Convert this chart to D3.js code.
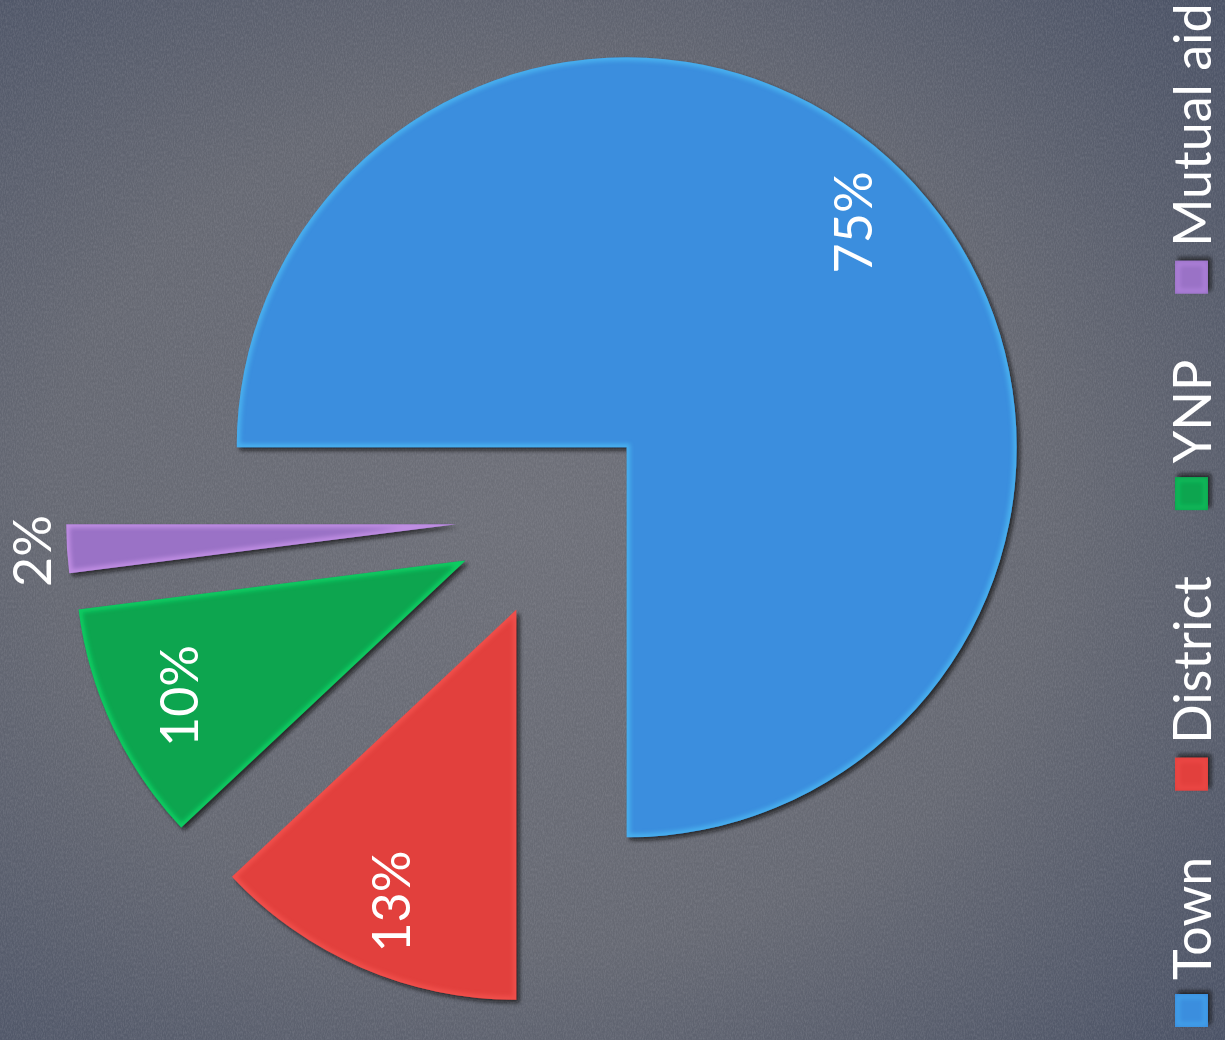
<!DOCTYPE html>
<html>
<head>
<meta charset="utf-8">
<script src="https://cdn.jsdelivr.net/npm/d3@7"></script>
<style>
  html, body { margin: 0; padding: 0; background: #5d6270; }
  svg { display: block; }
</style>
</head>
<body>
<svg id="chart" width="1225" height="1040"></svg>
<script>
// Share of calls by responding agency
const categories = ["Town", "District", "YNP", "Mutual aid"];
const shares = [75, 13, 10, 2];
const labels = ["75%", "13%", "10%", "2%"];
const colors = ["#3b8ede", "#e2403d", "#0aa550", "#9a72c6"];

const W = 1225, H = 1040;
const svg = d3.select("#chart");
const defs = svg.append("defs");

// Background: gray centre fading to a dark slate edge
const bg = defs.append("radialGradient").attr("id", "bg")
  .attr("cx", "45%").attr("cy", "50%").attr("r", "75%");
bg.append("stop").attr("offset", "0%").attr("stop-color", "#6e7079");
bg.append("stop").attr("offset", "55%").attr("stop-color", "#666973");
bg.append("stop").attr("offset", "100%").attr("stop-color", "#4a5266");

// Paper grain
const grain = defs.append("filter").attr("id", "grain")
  .attr("x", 0).attr("y", 0).attr("width", "100%").attr("height", "100%");
grain.append("feTurbulence").attr("type", "fractalNoise")
  .attr("baseFrequency", "0.9 0.35").attr("numOctaves", 2).attr("seed", 7).attr("result", "n");
grain.append("feColorMatrix").attr("in", "n").attr("type", "matrix")
  .attr("values", "0 0 0 0 0.5  0 0 0 0 0.5  0 0 0 0 0.55  0 0 0 0.9 -0.3");

// Drop shadow under each slice
const shadow = defs.append("filter").attr("id", "shadow")
  .attr("x", "-10%").attr("y", "-10%").attr("width", "130%").attr("height", "130%");
shadow.append("feDropShadow").attr("dx", 3).attr("dy", 3).attr("stdDeviation", 2)
  .attr("flood-color", "#101418").attr("flood-opacity", 0.75);

const soft = defs.append("filter").attr("id", "soft");
soft.append("feGaussianBlur").attr("stdDeviation", 2);

svg.append("rect").attr("width", W).attr("height", H).attr("fill", "url(#bg)");
svg.append("rect").attr("width", W).attr("height", H).attr("filter", "url(#grain)").attr("opacity", 0.35);

// Exploded pie, turned a quarter turn so the first slice starts at 9 o'clock
const cx = 556, cy = 518, radius = 390, explode = 100, labelR = 318;

const pie = d3.pie().sort(null)
  .startAngle(-Math.PI / 2).endAngle(3 * Math.PI / 2)
  .value(d => d.value);
const arc = d3.arc().innerRadius(0).outerRadius(radius);

const data = categories.map((c, i) => ({ name: c, value: shares[i], label: labels[i], color: colors[i] }));
const arcs = pie(data);

const dir = a => [Math.sin(a), -Math.cos(a)];

const slices = svg.append("g").selectAll("g.slice").data(arcs).join("g")
  .attr("class", "slice")
  .attr("transform", d => {
    const [ux, uy] = dir((d.startAngle + d.endAngle) / 2);
    return `translate(${cx + ux * explode},${cy + uy * explode})`;
  });

slices.each(function (d, i) {
  const g = d3.select(this);
  const clipId = "clip" + i;
  defs.append("clipPath").attr("id", clipId).append("path").attr("d", arc(d));
  g.append("path").attr("d", arc(d)).attr("fill", d.data.color).attr("filter", "url(#shadow)");
  // soft bevel highlight around the rim
  g.append("path").attr("d", arc(d))
    .attr("fill", "none")
    .attr("stroke", d3.color(d.data.color).brighter(1.1))
    .attr("stroke-width", 7)
    .attr("opacity", 0.5)
    .attr("clip-path", `url(#${clipId})`)
    .attr("filter", "url(#soft)");
});

// Percentage labels, read bottom-to-top
const fontFam = "Lato, 'Open Sans', sans-serif";
slices.append("text")
  .attr("transform", d => {
    const a = (d.startAngle + d.endAngle) / 2;
    const [ux, uy] = dir(a);
    const r = d.data.value < 5 ? radius + 36 : labelR;
    return `translate(${ux * r},${uy * r}) rotate(-90)`;
  })
  .attr("text-anchor", "middle")
  .attr("dominant-baseline", "central")
  .attr("fill", "#ffffff")
  .attr("font-family", fontFam)
  .attr("font-size", 52)
  .text(d => d.data.label);

// Legend, running up the right edge
const legend = svg.append("g").attr("transform", `translate(1211,1027) rotate(-90)`);
const sw = 33, pad = 14, gap = 66;
let u = 0;
data.forEach((d, i) => {
  const item = legend.append("g").attr("transform", `translate(${u},0)`);
  item.append("rect").attr("x", 0).attr("y", -36).attr("width", sw).attr("height", sw)
    .attr("fill", d.color).attr("filter", "url(#shadow)");
  item.append("rect").attr("x", 3).attr("y", -33).attr("width", sw - 6).attr("height", sw - 6)
    .attr("fill", "none").attr("stroke", d3.color(d.color).brighter(0.9)).attr("stroke-width", 3)
    .attr("opacity", 0.45).attr("filter", "url(#soft)");
  const t = item.append("text").attr("x", sw + pad).attr("y", 0)
    .attr("fill", "#ffffff").attr("font-family", fontFam).attr("font-size", 52)
    .text(d.name);
  u += sw + pad + t.node().getComputedTextLength() + gap;
});
</script>
</body>
</html>
